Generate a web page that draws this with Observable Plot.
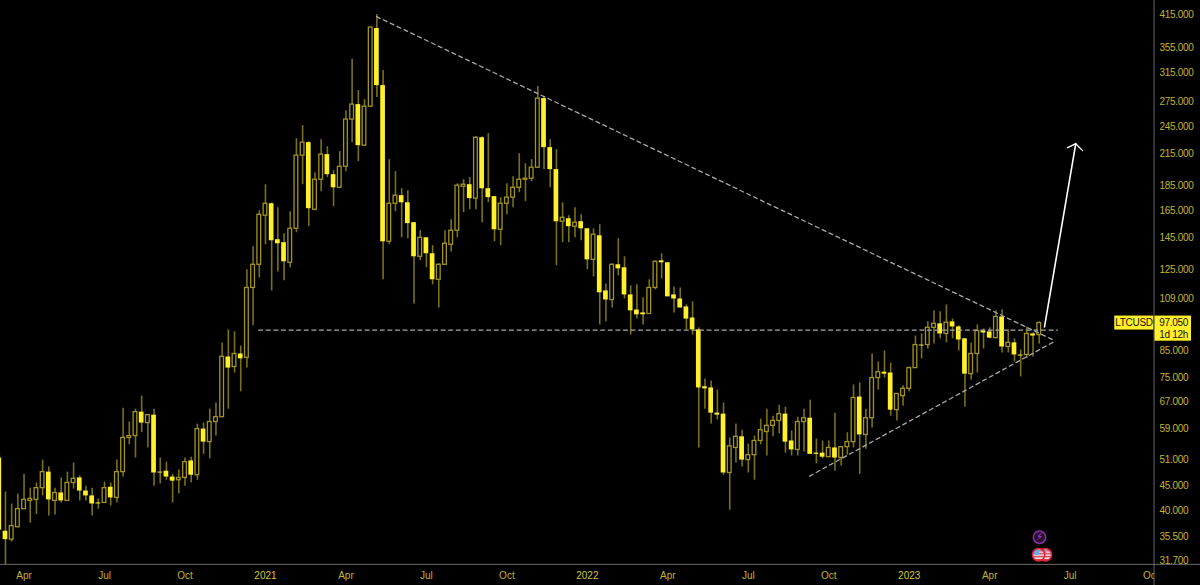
<!DOCTYPE html>
<html>
<head>
<meta charset="utf-8">
<script src="https://cdn.jsdelivr.net/npm/d3@7"></script>
<script src="https://cdn.jsdelivr.net/npm/@observablehq/plot@0.6"></script>
<style>
html,body{margin:0;padding:0;background:#000;overflow:hidden}
svg{display:block}
</style>
</head>
<body>
<div id="chart"></div>
<script>
// Weekly LTCUSD candles, first candle in week of 2020-03-02
const open_ = [51.4,36.4,35.0,37.1,40.4,42.0,42.2,44.6,48.1,42.0,43.6,42.0,45.7,46.8,44.0,43.0,41.6,41.6,44.8,42.6,48.1,56.5,57.0,63.8,60.6,62.9,48.1,48.3,47.0,46.3,46.8,50.7,47.4,58.9,55.4,60.9,62.3,82.7,78.9,83.9,82.4,114.5,127.7,160.9,170.2,143.7,141.7,128.9,151.3,213.5,227.0,165.5,190.6,214.5,195.2,183.5,202.6,253,271.5,223.8,268.9,388.5,296.9,142.3,170.2,176.8,171,155.7,132.6,145,134.5,119,127.7,140.3,149.9,184.4,186.2,174.4,232.3,182.7,176,150.6,170.2,175.2,183.5,190.6,191.5,201.7,279.3,221.7,199.9,156.4,158.6,152.8,156.4,151.3,130.7,146.4,112.9,108.2,127.7,125.9,110.8,103.2,101.8,101.3,114.5,130.1,128.9,110.8,108.7,104.7,99.4,94,71.9,71.5,63.5,63.2,47.9,53.9,56.8,50.9,52.1,55.7,58.1,59.8,61.2,63.2,55.7,53.4,60.9,62,52.6,52.6,51.6,53.9,51.4,54.1,55.4,68.5,57.3,62,74.9,77,76.7,64.4,68.8,71.2,78.5,87.5,87.5,94.9,96.7,92.2,97.6,95.3,90.1,76.3,83.9,93.5,93.1,90.4,99.9,86.7,88.4,83.5,83.5,92.2,91.7];
const high = [53,43.8,41.4,43.4,47.6,44.6,45.7,50.9,49.3,44.6,46.8,48.1,50.2,47.2,45.0,44.6,42.4,45.9,45.7,50.9,65.0,60.9,64.7,68.8,63.2,64.7,51.4,50.4,47.6,48.6,51.4,51.6,60.3,60.6,64.7,66.6,88.4,94.0,93.1,87.1,124.7,139.0,164.7,186.2,170.9,167.1,147.8,164.0,231.3,246,228,197,230.2,222.7,198.9,217.6,263.9,336,290,278,391,415,318.7,209.5,198,182.7,181,155.7,149.9,145,139.7,128.3,149.9,157.9,187,190.6,192.5,233.4,233.4,236.9,176,175.2,187,193.4,215.5,205.6,209.5,295.5,282,230.2,219.6,171,160.9,167.1,161.6,151.3,151.3,154.2,116.7,128.3,144.4,132.6,115.6,116.2,109.2,119,130.1,134.5,128.9,115,114.5,105.7,107.2,94.9,74.6,73.9,70.8,66.6,56.5,60.3,58.6,54.9,57,61.7,64.7,62.6,65.9,65.3,58.4,62.3,64.7,67.5,56.2,55.7,55.7,63.5,54.1,57.9,72.5,73.2,64.7,83.9,80.8,85.1,80.4,69.5,72.2,78.9,91.3,92.2,97.6,102.8,102.3,105.7,98.9,95.8,90.1,88.4,96.2,94.4,94.9,102.8,103.3,94,90.1,85.5,95.3,92.6,97.6];
const low = [36,31.1,34.6,37.1,40.4,37.8,39.4,43.0,39.1,39.3,41.6,42.0,44.4,42.0,42.0,39.1,40.4,41.6,41.0,41.6,47.0,54.7,51.4,57.9,53.9,45.0,45.5,46.3,41.6,43.4,45.0,45.7,46.3,52.3,51.2,57.0,62.3,64.7,76.7,70.2,78.5,95.8,120.0,140.3,112.9,123.5,118.4,125.9,148.5,186.2,152.8,164.7,180.2,192.5,168,182.7,198,226.9,207.5,222.7,268,280.6,119,140.3,164,145,144.4,106.2,130.1,125.9,116.2,104.2,127.7,135.7,145,163.2,165.5,165.5,155.7,171,142.3,139.7,161.6,167.1,179.3,171.9,188.8,201.7,199.9,183.5,127.1,141.7,141.7,145,143,124.7,120.6,96.2,97.6,104.2,121.2,108.7,91.7,98.9,96.2,101.3,113.4,119.5,109.8,101.8,104.2,94,91.7,53.9,64.7,60.3,61.5,47.4,40.2,50.2,49.3,47.9,46.3,54.7,51.9,56.8,57.6,52.6,51.9,51.9,52.9,52.3,50,51.2,51.6,48.3,49.5,52.1,53.9,47.6,53.6,59.2,70.8,74.9,62.6,61.2,65.6,70.2,78.5,82,85.9,87.9,90.1,88.4,90.1,85.1,65.3,74.2,76.7,85.9,90.1,90.1,84.3,84.3,80.8,75.3,82,82.7,87.9];
const close_ = [36.6,35.0,37.3,40.4,42.2,42.4,44.6,48.1,42.2,43.6,42.0,45.7,46.6,44.0,43.0,41.4,41.4,44.6,42.6,48.1,56.5,57.0,63.8,60.6,62.9,47.9,47.9,47.0,46.1,46.8,50.4,47.4,58.9,55.4,60.9,62.3,82.8,78.5,83.9,82.0,114.5,127.7,161.6,170.2,143.0,141.0,129.5,151.3,213.5,227.0,166.3,190.6,214.5,195.2,183.5,202.6,253,271.5,223.8,268.9,390.3,296.9,142.3,170.2,176.8,171,155,132.6,145,134.5,119,127.7,141,149.9,185.3,186.2,174.4,232.3,182.7,175.2,150.6,170.2,175.2,183.5,190.6,191.5,201.7,279.3,221.7,199.9,156.4,159.3,152.8,155.7,151.3,130.7,147.1,111.9,108.2,127.7,125.3,110.8,102.8,100.9,100.9,114.5,129.5,128.9,109.8,108.7,104.2,98.9,94,71.5,71.2,63.5,62.9,47.9,54.3,56.8,50.9,52.1,55.7,58.6,59.8,61.2,63.2,55.4,53.4,60.9,62,52.3,52.3,51.6,53.9,51.4,54.1,55.4,68.2,57.3,62,74.9,77,76.3,64.4,69.5,71.2,78.5,87.5,87.1,94.9,96.7,92.2,97.2,95.3,89.6,76.3,83.9,93.5,92.6,90.4,99.9,86.7,88.4,83.5,83.1,92.2,91.3,97.05];

const yTicks = [415,355,315,275,245,215,185,165,145,125,109,85,75,67,59,51,45,40,35.5,31.7];
const xTickWeeks = [4,17,30,43,56,69,82,95,108,121,134,147,160,173,186];
const xTickLabels = ["Apr","Jul","Oct","2021","Apr","Jul","Oct","2022","Apr","Jul","Oct","2023","Apr","Jul","Oct"];

const week = i => new Date(Date.UTC(2020, 2, 2) + i * 7 * 864e5);
const candles = open_.map((o, i) => ({
  date: week(i), x1: week(i - 0.38), x2: week(i + 0.38), hx1: week(i - 0.3), hx2: week(i + 0.3),
  open: o, high: high[i], low: low[i], close: close_[i], up: close_[i] >= o
}));
const up = candles.filter(d => d.up), down = candles.filter(d => !d.up);

// Drawn annotations: [week, price]
const resistance = [[60.94, 411], [170.6, 89.2]];
const support = [[130.9, 47.2], [170.6, 89.2]];
const level = [[41.9, 93.9], [170.95, 93.9]];
const arrowShaft = [[168.85, 95.3], [173.9, 225.9]];
const arrowHead = [[172.6, 221.7], [173.9, 225.9], [175, 218.6]];
const pt = ([w, p]) => ({d: week(w), p});

const YEL = "#fff02a", TXT = "#c2b42c", FONT = "Liberation Sans, Arial, sans-serif";
const dash = {x: "d", y: "p", stroke: "#a8a8a8", strokeWidth: 1.3, strokeDasharray: "4,3.6"};

const plot = Plot.plot({
  width: 1200, height: 585,
  marginLeft: 0, marginRight: 46, marginTop: 0, marginBottom: 0,
  style: {background: "#000", fontFamily: FONT},
  x: {type: "utc", domain: [week(0.194), week(186.62)], axis: null},
  y: {type: "log", domain: [28.2, 443.3], range: [585, 0], axis: null},
  marks: [
    Plot.ruleX([week(186.55)], {stroke: "#444", strokeWidth: 1.5}),
    Plot.ruleY([31.15], {x1: () => week(-1), x2: () => week(195), stroke: "#6a6a6a", strokeWidth: 1}),
    Plot.ruleX(candles, {x: "date", y1: "low", y2: "high", stroke: "#7a7019", strokeWidth: 1.6}),
    Plot.rect(up, {x1: "hx1", x2: "hx2", y1: "open", y2: "close", fill: "#000", stroke: "#a09322", strokeWidth: 1.3}),
    Plot.rect(down, {x1: "x1", x2: "x2", y1: "open", y2: "close", fill: YEL}),
    Plot.line(resistance.map(pt), dash),
    Plot.line(support.map(pt), dash),
    Plot.line(level.map(pt), dash),
    Plot.line(arrowShaft.map(pt), {x: "d", y: "p", stroke: "#fff", strokeWidth: 1.6}),
    Plot.line(arrowHead.map(pt), {x: "d", y: "p", stroke: "#fff", strokeWidth: 1.4}),
    // event icons
    Plot.dot([pt([168.04, 35.4])], {x: "d", y: "p", r: 6.2, fill: "#2a0f33", stroke: "#8e2fa8", strokeWidth: 1.5}),
    Plot.text([pt([168.04, 35.4])], {x: "d", y: "p", text: () => "⚡", fill: "#b044d0", fontSize: 10, fontFamily: "DejaVu Sans"}),
    Plot.dot([pt([169, 32.6]), pt([167.9, 32.6])], {x: "d", y: "p", r: 6.2, fill: "url(#usflag)", stroke: "#d9283a", strokeWidth: 1.6}),
    // time axis labels, clipped at the price panel
    Plot.text(xTickWeeks.map((w, i) => ({d: week(w), t: xTickLabels[i]})), {
      x: "d", text: "t", frameAnchor: "bottom", lineAnchor: "middle", dy: -10, clip: true,
      fill: d => /^\d/.test(d.t) ? "#d6c733" : TXT,
      fontWeight: d => /^\d/.test(d.t) ? "bold" : "normal", fontSize: 10
    }),
    Plot.axisY(yTicks, {anchor: "right", tickSize: 0, tickPadding: 5, label: null, color: TXT,
      tickFormat: d => d.toFixed(3), fontSize: 10, className: "tight"}),
    // last price tag
    Plot.rect([{x1: week(180.2), x2: week(186.5), y1: 93.9, y2: 100.3}], {x1: "x1", x2: "x2", y1: "y1", y2: "y2", fill: YEL}),
    Plot.rect([{x1: week(186.7), x2: week(192.6), y1: 89.1, y2: 100.3}], {x1: "x1", x2: "x2", y1: "y1", y2: "y2", fill: YEL}),
    Plot.text([{d: week(183.3), p: 97.05, t: "LTCUSD"}, {d: week(189.7), p: 97.05, t: "97.050"}, {d: week(189.7), p: 91.9, t: "1d 12h"}],
      {x: "d", y: "p", text: "t", fill: "#111", fontSize: 10, className: "tight"})
  ]
});

// tighter digit spacing on the price panel
d3.select(plot).append("style").text(".tight text{letter-spacing:-0.3px}");

// small US flag pattern for the economic-event markers
const defs = d3.select(plot).append("defs");
const pat = defs.append("pattern").attr("id", "usflag").attr("patternUnits", "objectBoundingBox")
  .attr("patternContentUnits", "objectBoundingBox").attr("width", 1).attr("height", 1);
pat.append("rect").attr("width", 1).attr("height", 1).attr("fill", "#f2f2f2");
[0.12, 0.36, 0.6, 0.84].forEach(y => pat.append("rect").attr("y", y).attr("width", 1).attr("height", 0.12).attr("fill", "#e0394a"));
pat.append("rect").attr("width", 0.55).attr("height", 0.52).attr("fill", "#6fa8e8");

document.getElementById("chart").append(plot);
</script>
</body>
</html>
